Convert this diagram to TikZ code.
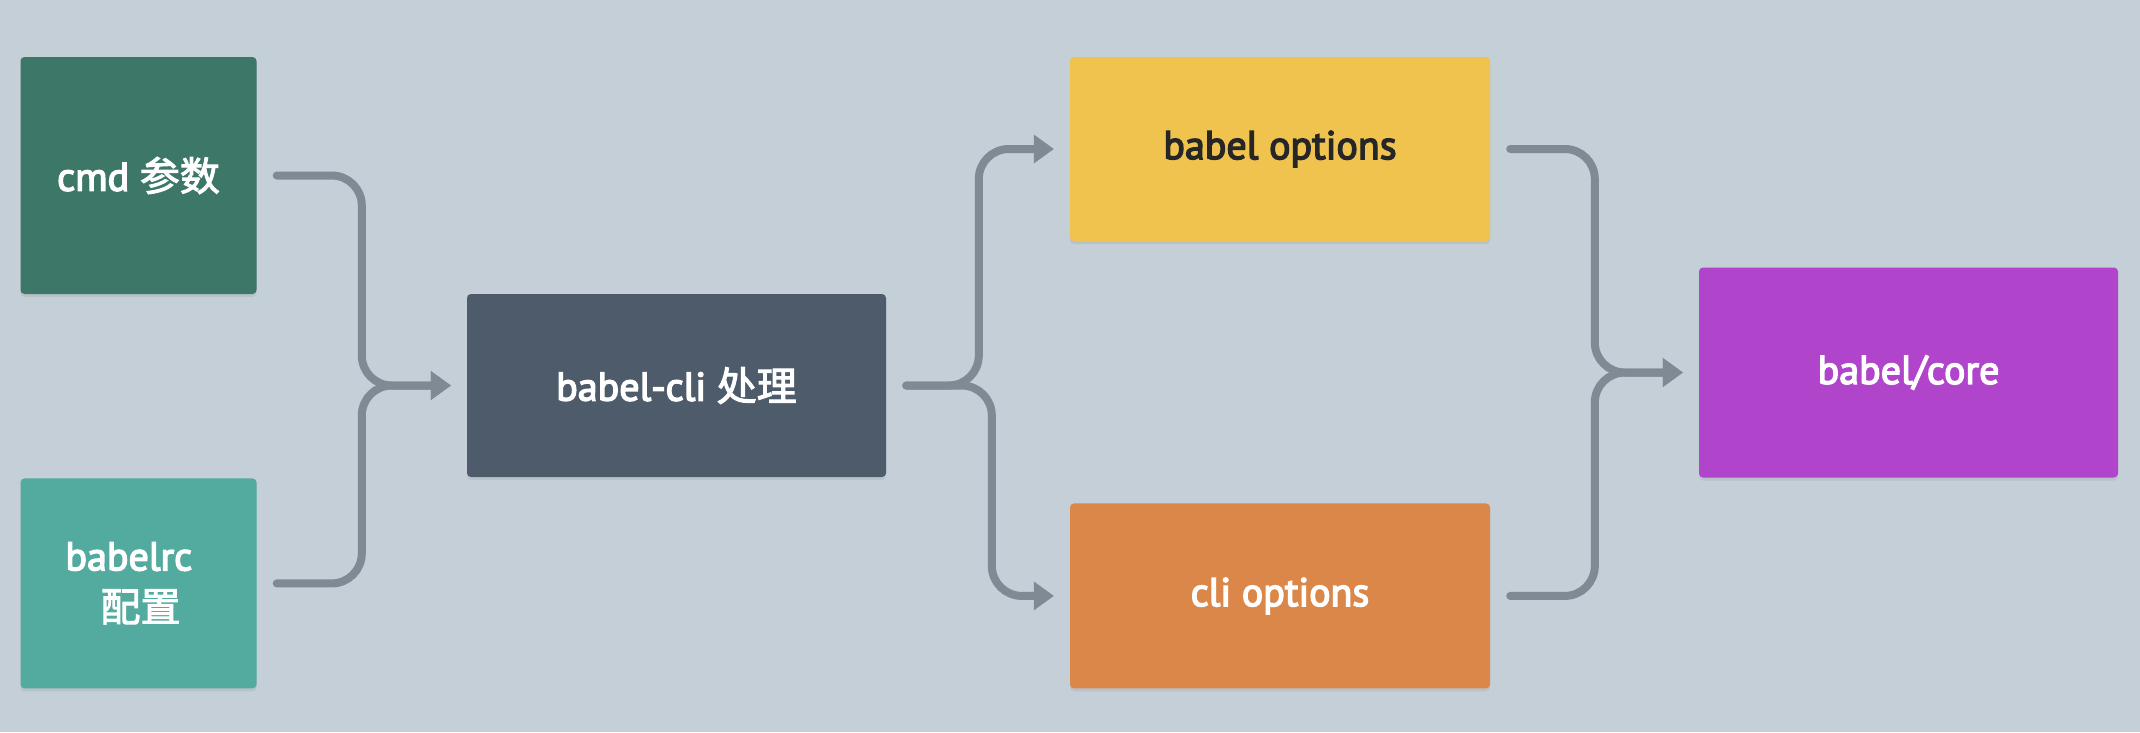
\documentclass[tikz,border=0pt]{standalone}
\usepackage{fontspec}
\setmainfont{PT Sans}[FakeBold=3.5]
\newfontfamily\cjk{Noto Sans CJK SC}[FakeBold=2.5]
\usetikzlibrary{positioning,arrows.meta,shadows,calc}

\definecolor{bgcol}{HTML}{C4CFD8}
\definecolor{cmdcol}{HTML}{3C7767}
\definecolor{rccol}{HTML}{52AB9E}
\definecolor{clicol}{HTML}{4E5B6A}
\definecolor{boptcol}{HTML}{EFC34E}
\definecolor{coptcol}{HTML}{DB874A}
\definecolor{corecol}{HTML}{B044CB}
\definecolor{linkcol}{HTML}{7F8A95}

\tikzset{
  box/.style={rectangle,
              rounded corners=4pt,
              draw=none,
              text=white,
              align=center,
              drop shadow={shadow xshift=0pt, shadow yshift=-3pt, opacity=0.06, fill=black}},
  link/.style={draw=linkcol,
               line width=8pt,
               line cap=round,
               rounded corners=30pt,
               shorten <=20pt,
               shorten >=16pt,
               -{Triangle[length=20pt,width=29pt,line width=0pt]}}
}

\begin{document}
\begin{tikzpicture}[x=1pt, y=-1pt, font=\fontsize{40}{51}\selectfont]
    \fill[bgcol] (0,0) rectangle (2140,732);
    \useasboundingbox (0,0) rectangle (2140,732);
    % Add the boxes
    \node[box,
          fill=cmdcol,
          minimum width=236pt,
          minimum height=237pt] (cmd) at (138.5,175.5) {cmd {\cjk 参数}};
    \node[box,
          below=184pt of cmd,
          fill=rccol,
          minimum width=236pt,
          minimum height=210pt] (rc) {\makebox[146pt][l]{babelrc}\\\makebox[146pt][l]{\hspace{35pt}{\cjk 配置}}};
    \node[box,
          fill=clicol,
          minimum width=419pt,
          minimum height=183pt] (bcli) at (676.5,385.5) {babel-cli {\cjk 处理}};
    \node[box,
          fill=boptcol,
          text=black!85,
          minimum width=420pt,
          minimum height=184pt] (bopt) at (1280,149) {babel options};
    \node[box,
          below=262pt of bopt,
          fill=coptcol,
          minimum width=420pt,
          minimum height=185pt] (copt) {cli options};
    \node[box,
          fill=corecol,
          minimum width=419pt,
          minimum height=210pt] (core) at (1908.5,372.5) {babel/core};
    % Branch points
    \coordinate (jl) at ($(bcli.west)+(-105,0)$);
    \coordinate (ftop) at ($(bopt.west)+(-91,0)$);
    \coordinate (fbot) at ($(copt.west)+(-78,0)$);
    \coordinate (jr) at ($(core.west)+(-104,0)$);
    % Connect the boxes
    \draw[link] (cmd.east) -| (jl) -- (bcli.west);
    \draw[link] (rc.east) -| (jl) -- (bcli.west);
    \draw[link] (bcli.east) -| (ftop) -- (bopt.west);
    \draw[link] (bcli.east) -| (fbot) -- (copt.west);
    \draw[link] (bopt.east) -| (jr) -- (core.west);
    \draw[link] (copt.east) -| (jr) -- (core.west);
\end{tikzpicture}
\end{document}
